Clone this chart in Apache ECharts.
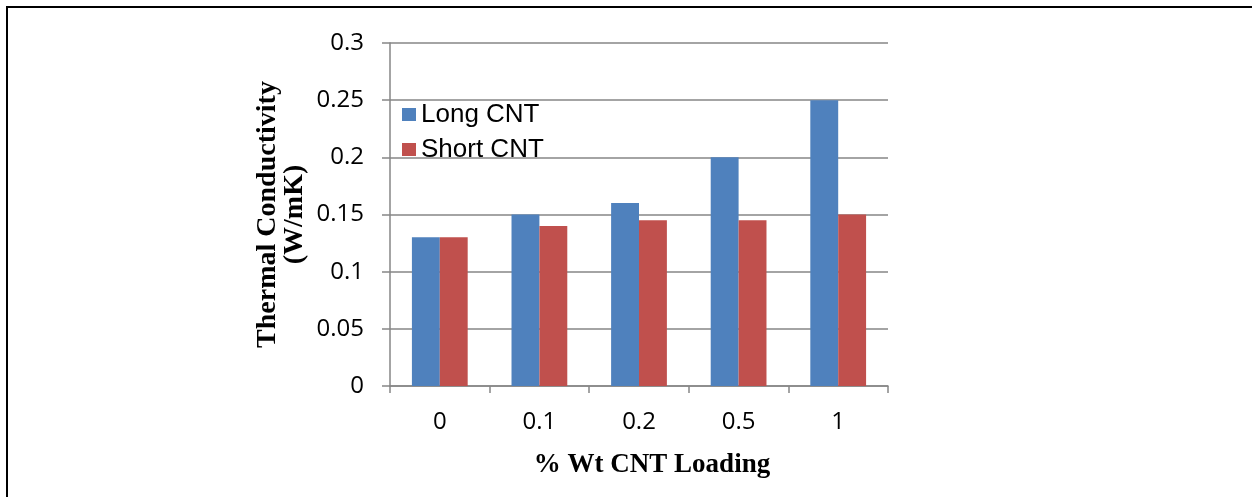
<!DOCTYPE html>
<html>
<head>
<meta charset="utf-8">
<script src="https://cdn.jsdelivr.net/npm/echarts@6/dist/echarts.min.js"></script>
<style>
html,body{margin:0;padding:0;background:#fff;}
#c{width:1252px;height:497px;}
</style>
</head>
<body>
<div id="c"></div>
<script>
const categories = ['0', '0.1', '0.2', '0.5', '1'];
const longCNT = [0.13, 0.15, 0.16, 0.20, 0.25];
const shortCNT = [0.13, 0.14, 0.145, 0.145, 0.15];
const seriesNames = ['Long CNT', 'Short CNT'];
const yTitle = 'Thermal Conductivity\n(W/mK)';
const xTitle = '% Wt CNT Loading';

const axisGray = '#868686';
const chart = echarts.init(document.getElementById('c'), null, {renderer: 'canvas'});
chart.setOption({
  animation: false,
  backgroundColor: '#fff',
  color: ['#4F81BD', '#C0504D'],
  grid: {left: 390, right: 364, top: 43, bottom: 111, containLabel: false},
  legend: {
    orient: 'vertical',
    left: 397,
    top: 96,
    itemWidth: 14,
    itemHeight: 13,
    itemGap: 8,
    icon: 'rect',
    data: seriesNames,
    textStyle: {fontFamily: 'Liberation Sans, Arial', fontSize: 26, color: '#000', lineHeight: 27, padding: [0,0,0,0]}
  },
  xAxis: {
    type: 'category',
    data: categories,
    name: xTitle,
    nameLocation: 'middle',
    nameGap: 66,
    nameTextStyle: {fontFamily: 'Liberation Serif, Times New Roman', fontWeight: 'bold', fontSize: 27, color: '#000', padding: [0,0,0,26]},
    axisLine: {lineStyle: {color: axisGray, width: 1.5}},
    axisTick: {show: true, length: 7, lineStyle: {color: axisGray, width: 1.5}},
    axisLabel: {margin: 24, fontFamily: 'Open Sans', fontSize: 24, color: '#000'}
  },
  yAxis: {
    type: 'value',
    min: 0,
    max: 0.3,
    interval: 0.05,
    name: yTitle,
    nameLocation: 'middle',
    nameGap: 82,
    nameRotate: 90,
    nameTextStyle: {fontFamily: 'Liberation Serif, Times New Roman', fontWeight: 'bold', fontSize: 28, color: '#000', lineHeight: 27, align: 'center'},
    axisLine: {show: true, lineStyle: {color: axisGray, width: 1.5}},
    axisTick: {show: true, length: 8, lineStyle: {color: axisGray, width: 1.5}},
    splitLine: {show: true, lineStyle: {color: axisGray, width: 1.5}},
    axisLabel: {margin: 26, fontFamily: 'Open Sans', fontSize: 24, color: '#000',
      formatter: v => String(parseFloat(v.toFixed(3)))}
  },
  series: [
    {name: seriesNames[0], type: 'bar', data: longCNT, barGap: '0%', barCategoryGap: '44%'},
    {name: seriesNames[1], type: 'bar', data: shortCNT, barGap: '0%', barCategoryGap: '44%'}
  ],
  graphic: [
    {type: 'line', shape: {x1: 6, y1: 7, x2: 1252, y2: 7}, style: {stroke: '#000', lineWidth: 2}},
    {type: 'line', shape: {x1: 7, y1: 6, x2: 7, y2: 497}, style: {stroke: '#000', lineWidth: 2}}
  ]
});
</script>
</body>
</html>
